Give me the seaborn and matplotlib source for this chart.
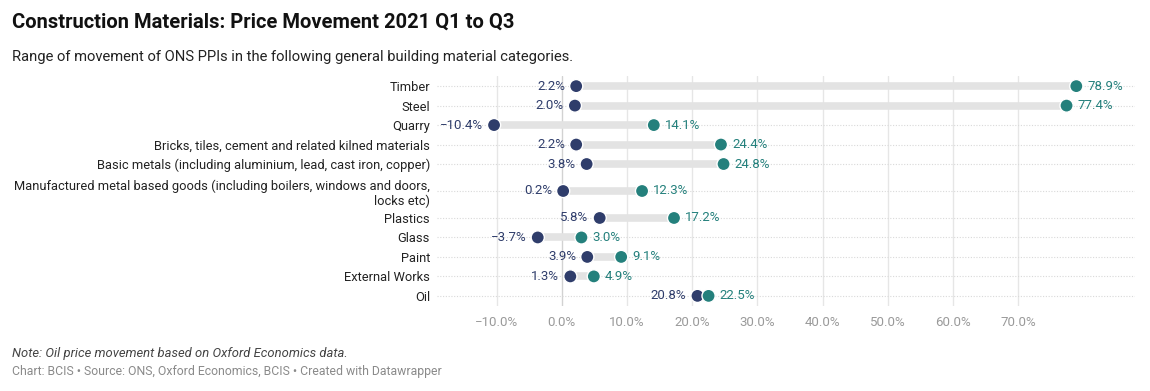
import numpy as np
import pandas as pd
import matplotlib
matplotlib.use("Agg")
import matplotlib.pyplot as plt
import seaborn as sns

# ---- data ----
categories = [
    "Timber",
    "Steel",
    "Quarry",
    "Bricks, tiles, cement and related kilned materials",
    "Basic metals (including aluminium, lead, cast iron, copper)",
    "Manufactured metal based goods (including boilers, windows and doors,\nlocks etc)",
    "Plastics",
    "Glass",
    "Paint",
    "External Works",
    "Oil",
]
low_values = [2.2, 2.0, -10.4, 2.2, 3.8, 0.2, 5.8, -3.7, 3.9, 1.3, 20.8]
high_values = [78.9, 77.4, 14.1, 24.4, 24.8, 12.3, 17.2, 3.0, 9.1, 4.9, 22.5]
x_ticks = [-10, 0, 10, 20, 30, 40, 50, 60, 70]

title = "Construction Materials: Price Movement 2021 Q1 to Q3"
subtitle = "Range of movement of ONS PPIs in the following general building material categories."
note = "Note: Oil price movement based on Oxford Economics data."
credit = "Chart: BCIS \u2022 Source: ONS, Oxford Economics, BCIS \u2022 Created with Datawrapper"

NAVY = "#2f3d6b"
TEAL = "#24807c"

sns.set_theme(style="white")
plt.rcParams["font.family"] = ["Roboto", "DejaVu Sans"]

# row positions: two-line labels take extra room
heights = [1.0 + 0.77 * (c.count("\n")) for c in categories]
ypos = []
acc = 0.0
for i, h in enumerate(heights):
    if i == 0:
        acc = 0.0
    else:
        acc += (heights[i - 1] + h) / 2
    ypos.append(acc)

df = pd.DataFrame({"category": categories, "y": ypos,
                   "low": low_values, "high": high_values})
long = pd.concat([
    pd.DataFrame({"y": df["y"], "value": df["low"], "series": "low"}),
    pd.DataFrame({"y": df["y"], "value": df["high"], "series": "high"}),
])

fig = plt.figure(figsize=(11.5, 3.91), dpi=100)
ax = fig.add_axes([437 / 1150, 1 - 306 / 391, (1135 - 437) / 1150, (306 - 76) / 391])

# grid lines
for t in x_ticks:
    ax.axvline(t, color="#d2d2d2" if t == 0 else "#e6e6e6", lw=1.0, zorder=0)
for y in ypos:
    ax.axhline(y, color="#d9d9d9", lw=0.8, ls=(0, (1, 1.5)), zorder=0)

# range bars
ax.hlines(df["y"], df["low"], df["high"], color="#e3e3e3", lw=5.5, zorder=1)

sns.scatterplot(data=long, x="value", y="y", hue="series",
                palette={"low": NAVY, "high": TEAL}, s=90,
                edgecolor="white", linewidth=1.0, zorder=3, ax=ax, legend=False)

for _, r in df.iterrows():
    ax.annotate(f"{r['low']:.1f}%".replace("-", "\u2212"), (r["low"], r["y"]),
                xytext=(-8, 0), textcoords="offset points", ha="right", va="center",
                color=NAVY, fontsize=9.5)
    ax.annotate(f"{r['high']:.1f}%", (r["high"], r["y"]),
                xytext=(8, 0), textcoords="offset points", ha="left", va="center",
                color=TEAL, fontsize=9.5)

ax.set_xlim(-19.15, 87.9)
ax.set_ylim(ypos[-1] + 0.52, -0.52)
ax.set_xticks(x_ticks)
ax.set_xticklabels([f"{t:.1f}%".replace("-", "\u2212") for t in x_ticks],
                   color="#9a9a9a", fontsize=9.5)
ax.set_yticks(ypos)
ax.set_yticklabels(categories, fontsize=9.3, color="#222222", linespacing=1.2)
ax.tick_params(axis="x", length=0, pad=7)
ax.tick_params(axis="y", length=0, pad=5)
ax.set_xlabel("")
ax.set_ylabel("")
for s in ax.spines.values():
    s.set_visible(False)
ax.set_facecolor("white")

fig.text(12 / 1150, 1 - 22 / 391, title, fontsize=14.5, fontweight="bold",
         color="#111111", va="center", ha="left")
fig.text(12 / 1150, 1 - 57 / 391, subtitle, fontsize=10.6,
         color="#222222", va="center", ha="left")
fig.text(12 / 1150, 1 - 353 / 391, note, fontsize=9.4, style="italic",
         color="#444444", va="center", ha="left")
fig.text(12 / 1150, 1 - 372 / 391, credit, fontsize=8.8,
         color="#8a8a8a", va="center", ha="left")

fig.savefig("out.png", dpi=100, facecolor="white")
